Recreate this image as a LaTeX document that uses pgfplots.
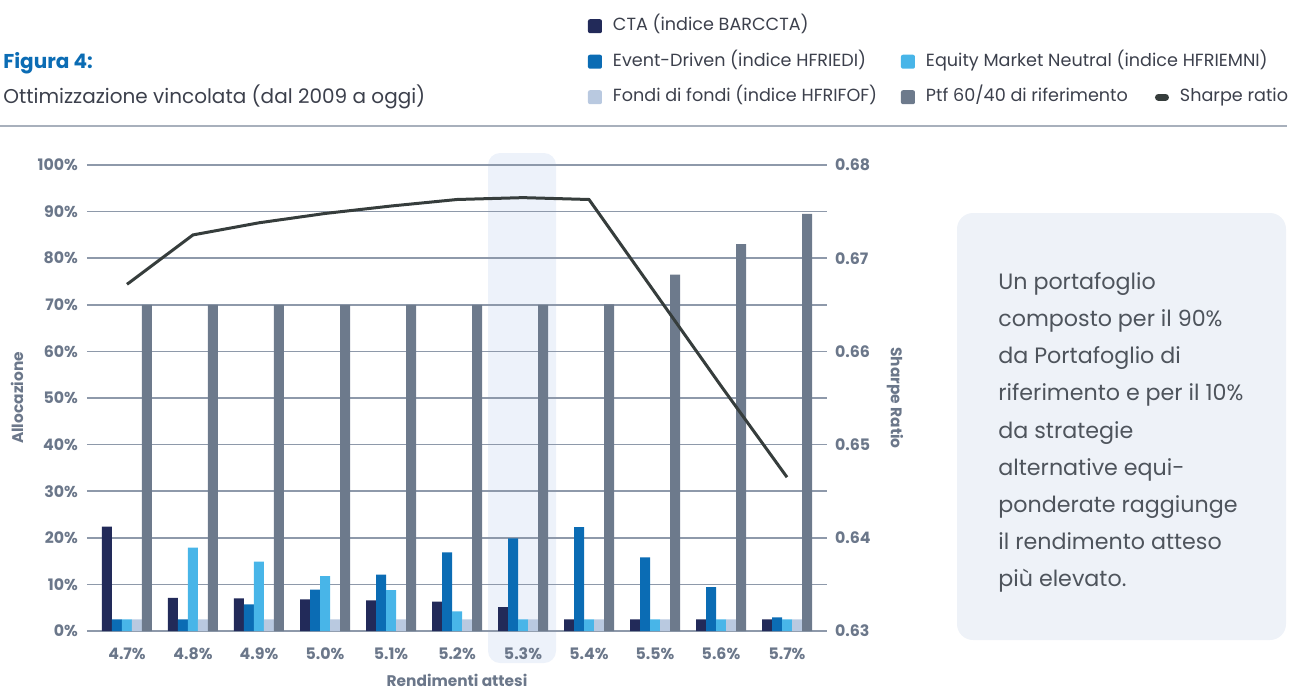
\documentclass[border=0pt]{standalone}
\usepackage{pgfplots}
\pgfplotsset{compat=1.18}
\usepackage{fontspec}
\setmainfont{Poppins}
\definecolor{cta}{HTML}{222A59}
\definecolor{ed}{HTML}{0B6CB4}
\definecolor{emn}{HTML}{48B5E8}
\definecolor{fof}{HTML}{B9C9E0}
\definecolor{ptf}{HTML}{6D7A8C}
\definecolor{sharpe}{HTML}{363D3C}
\definecolor{gridc}{HTML}{8E99AA}
\definecolor{tickc}{HTML}{6B778A}
\definecolor{hl}{HTML}{EDF2FA}
\definecolor{boxc}{HTML}{EEF2F8}
\definecolor{rulec}{HTML}{A8B0BC}
\definecolor{bodyc}{HTML}{3C404C}
\definecolor{boxtext}{HTML}{4E545C}
\pgfplotsset{
  sqleg/.style={legend image code/.code={\fill[##1,draw=none,rounded corners=1pt] (0pt,-3.5pt) rectangle (7pt,3.5pt);}},
}
\newcommand{\lt}[2]{\makebox[#1][l]{\hspace{5.5pt}#2}}
\begin{document}
\begin{tikzpicture}
\useasboundingbox (0,0) rectangle (645pt,-345.5pt);
\begin{scope}[x=0.5pt,y=-0.5pt]
\fill[hl,rounded corners=6pt] (488,153) rectangle (556,663);
\fill[boxc,rounded corners=8pt] (957,213) rectangle (1286,640);
\draw[rulec,line width=0.8pt] (0,126) -- (1287,126);
\node[anchor=west,inner sep=0,font=\bfseries\fontsize{10}{12}\selectfont,text=ed] at (3,63) {Figura 4:};
\node[anchor=west,inner sep=0,font=\fontsize{10}{12}\selectfont,text=bodyc] at (3,97) {Ottimizzazione vincolata (dal 2009 a oggi)};
\node[anchor=north west,inner sep=0,align=left,font=\fontsize{11.1}{18.6}\selectfont,text=boxtext] at (998,272) {Un portafoglio\\composto per il 90\%\\da Portafoglio di\\riferimento e per il 10\%\\da strategie\\alternative equi-\\ponderate raggiunge\\il rendimento atteso\\più elevato.};
\node[rotate=90,inner sep=0,font=\bfseries\fontsize{7.7}{9}\selectfont,text=tickc] at (17,398) {Allocazione};
\node[rotate=-90,inner sep=0,font=\bfseries\fontsize{7.7}{9}\selectfont,text=tickc] at (895,398) {Sharpe Ratio};
\node[inner sep=0,font=\bfseries\fontsize{7.7}{9}\selectfont,text=tickc] at (457,680) {Rendimenti attesi};
\end{scope}
\begin{axis}[
  at={(43.5pt,-315.5pt)}, anchor=south west,
  scale only axis, width=370pt, height=233pt,
  xmin=-0.606, xmax=10.606, ymin=0, ymax=100,
  ybar=0pt, bar width=5pt,
  xtick={0,...,10},
  xticklabels={4.7\%,4.8\%,4.9\%,5.0\%,5.1\%,5.2\%,5.3\%,5.4\%,5.5\%,5.6\%,5.7\%},
  ytick={0,10,...,100},
  yticklabels={0\%,10\%,20\%,30\%,40\%,50\%,60\%,70\%,80\%,90\%,100\%},
  ymajorgrids, grid style={gridc,line width=0.75pt},
  axis line style={draw=none}, major tick style={draw=none},
  ticklabel style={font=\bfseries\fontsize{7.9}{9}\selectfont,text=tickc},
  yticklabel style={xshift=-1pt},
  xticklabel style={yshift=-0.5pt},
  clip=false,
]
\addplot[fill=cta,draw=none] coordinates {(0,22.4)(1,7.1)(2,7.0)(3,6.8)(4,6.6)(5,6.3)(6,5.1)(7,2.5)(8,2.5)(9,2.5)(10,2.5)};
\addplot[fill=ed,draw=none] coordinates {(0,2.5)(1,2.5)(2,5.7)(3,8.9)(4,12.1)(5,16.9)(6,19.9)(7,22.3)(8,15.8)(9,9.4)(10,2.9)};
\addplot[fill=emn,draw=none] coordinates {(0,2.5)(1,17.9)(2,14.9)(3,11.8)(4,8.8)(5,4.2)(6,2.5)(7,2.5)(8,2.5)(9,2.5)(10,2.5)};
\addplot[fill=fof,draw=none] coordinates {(0,2.5)(1,2.5)(2,2.5)(3,2.5)(4,2.5)(5,2.5)(6,2.5)(7,2.5)(8,2.5)(9,2.5)(10,2.5)};
\addplot[fill=ptf,draw=none] coordinates {(0,70)(1,70)(2,70)(3,70)(4,70)(5,70)(6,70)(7,70.1)(8,76.5)(9,83.0)(10,89.5)};
\end{axis}
\begin{axis}[
  at={(43.5pt,-315.5pt)}, anchor=south west,
  scale only axis, width=370pt, height=233pt,
  xmin=-0.606, xmax=10.606, ymin=0.63, ymax=0.68,
  axis y line*=right, axis x line=none,
  ytick={0.63,0.64,0.65,0.66,0.67,0.68},
  yticklabels={0.63,0.64,0.65,0.66,0.67,0.68},
  axis line style={draw=none}, major tick style={draw=none},
  ticklabel style={font=\bfseries\fontsize{7.9}{9}\selectfont,text=tickc},
  yticklabel style={xshift=0.5pt},
  clip=false,
  legend columns=3,
  legend style={at={(0.677,1.315)}, anchor=north west, draw=none, fill=none,
    inner sep=0pt, outer sep=0pt, column sep=0pt, row sep=9.75pt,
    font=\fontsize{8.8}{10}\selectfont, text=bodyc,
    nodes={inner sep=0pt, text height=6.2pt, text depth=1.8pt}},
]
\addlegendimage{sqleg,fill=cta}\addlegendentry{\lt{149.5pt}{CTA (indice BARCCTA)}}
\addlegendimage{empty legend}\addlegendentry{\mbox{}}
\addlegendimage{empty legend}\addlegendentry{\mbox{}}
\addlegendimage{sqleg,fill=ed}\addlegendentry{\lt{149.5pt}{Event-Driven (indice HFRIEDI)}}
\addlegendimage{sqleg,fill=emn}\addlegendentry{\lt{120pt}{Equity Market Neutral (indice HFRIEMNI)}}
\addlegendimage{empty legend}\addlegendentry{\mbox{}}
\addlegendimage{sqleg,fill=fof}\addlegendentry{\lt{149.5pt}{Fondi di fondi (indice HFRIFOF)}}
\addlegendimage{sqleg,fill=ptf}\addlegendentry{\lt{120pt}{Ptf 60/40 di riferimento}}
\addplot[sharpe,line width=1.5pt,
  legend image code/.code={\draw[sharpe,line width=3.5pt,line cap=round] (1.75pt,0pt) -- (5.25pt,0pt);}]
  coordinates {(0,0.6672)(1,0.6725)(2,0.6738)(3,0.6748)(4,0.6756)(5,0.6763)(6,0.6765)(7,0.6763)(8,0.6663)(9,0.6563)(10,0.6465)};
\addlegendentry{\hspace{5.5pt}Sharpe ratio}
\end{axis}
\end{tikzpicture}
\end{document}
